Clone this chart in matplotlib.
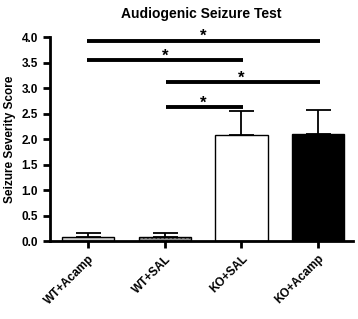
import numpy as np
import matplotlib.pyplot as plt

groups = ['WT+Acamp', 'WT+SAL', 'KO+SAL', 'KO+Acamp']
means = [0.08, 0.08, 2.07, 2.1]
errs = [0.07, 0.07, 0.48, 0.47]
colors = ['#d0d0d0', '#909090', 'white', 'black']
hatches = ['', '....', '', '']
# significance comparisons: (left group, right group, height)
sig_pairs = [(0, 3, 3.93), (0, 2, 3.55), (1, 3, 3.12), (1, 2, 2.62)]

plt.rcParams['font.family'] = ['Liberation Sans', 'DejaVu Sans']
plt.rcParams['font.weight'] = 'bold'
plt.rcParams['hatch.color'] = '#555555'

fig = plt.figure(figsize=(3.58, 3.19), dpi=100)
ax = fig.add_axes([0.1397, 0.2445, 0.845, 0.6395])

x = np.arange(len(groups))
for i in range(len(groups)):
    ax.bar(x[i], means[i], width=0.68, color=colors[i], edgecolor='black',
           linewidth=1, hatch=hatches[i], zorder=2)
    ax.errorbar(x[i], means[i], yerr=[[0], [errs[i]]], fmt='none', ecolor='black',
                elinewidth=1.3, capsize=9, capthick=1.3, zorder=3)

for a, b, h in sig_pairs:
    ax.plot([x[a] + (0.04 if a == 1 else 0) - 0.02, x[b] + 0.02], [h, h], color='black', lw=2.8,
            solid_capstyle='butt', zorder=4)
    ax.text((x[a] + x[b]) / 2, h - 0.07, '*', ha='center', va='bottom',
            fontsize=12, fontweight='bold')

ax.set_xlim(-0.5, 3.45)
ax.set_ylim(0, 4.0)
ax.set_yticks(np.arange(0, 4.01, 0.5))
ax.set_yticklabels(['%.1f' % v for v in np.arange(0, 4.01, 0.5)], fontsize=8.5,
                   fontweight='bold')
ax.set_xticks(x)
ax.set_xticklabels(groups, rotation=45, ha='right', rotation_mode='anchor',
                   fontsize=8.5, fontweight='bold')
ax.set_ylabel('Seizure Severity Score', fontsize=8.5, fontweight='bold')
ax.set_title('Audiogenic Seizure Test', fontsize=10, fontweight='bold', pad=14)
ax.spines['top'].set_visible(False)
ax.spines['right'].set_visible(False)
ax.spines['left'].set_linewidth(2)
ax.spines['bottom'].set_linewidth(2)
ax.tick_params(width=2, length=5)

fig.savefig('out.png', dpi=100)
